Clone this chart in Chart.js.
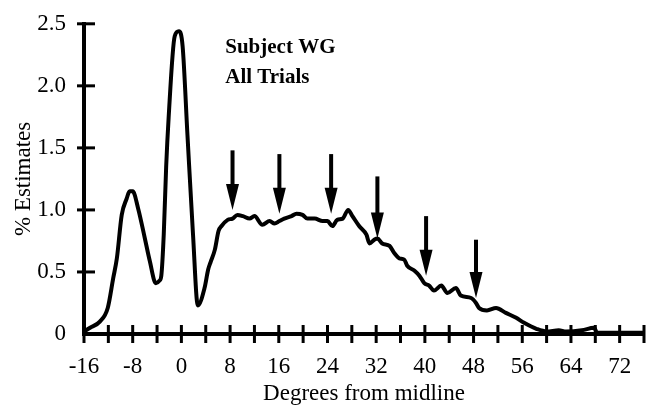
<!DOCTYPE html>
<html>
<head>
<meta charset="utf-8">
<script src="https://cdn.jsdelivr.net/npm/chart.js@4"></script>
<style>
  html, body { margin: 0; padding: 0; background: #fff; }
  #wrap { width: 655px; height: 410px; }
</style>
</head>
<body>
<div id="wrap"><canvas id="wgChart"></canvas></div>
<script>
// degrees from midline and % of estimates
const degrees = [-16, -15, -13.4, -12.1, -11.2, -10.6, -9.8, -9, -8.5, -8, -7.1, -6, -5.2, -4.2, -3.6,
  -3.3, -2.9, -2.5, -2.1, -1.1, -0.4, 0.2, 1.0, 1.9, 2.7, 3.8, 4.4, 4.8, 5.5, 6.1, 6.6, 7.6, 8.4, 9.2,
  10.1, 11.2, 12, 13.3, 14.5, 15.3, 16.1, 16.9, 18.1, 18.9, 19.9, 20.7, 21.9, 23.2, 24, 24.8, 25.6, 26.5,
  27.4, 28.1, 29.2, 30.4, 30.9, 31.7, 32.2, 33, 34.2, 35, 35.8, 36.6, 37.1, 38.3, 39.1, 39.9, 40.7, 41.5,
  42.7, 43.7, 45.1, 45.9, 47.6, 48.4, 48.9, 50.2, 51.7, 53.3, 55, 56.3, 58.4, 60, 62, 63.2, 65.8, 67.8,
  68.3, 72, 76];
const estimates = [0.02, 0.05, 0.1, 0.21, 0.45, 0.61, 0.96, 1.09, 1.15, 1.15, 1.01, 0.77, 0.59, 0.41, 0.43,
  0.47, 0.8, 1.35, 1.74, 2.4, 2.44, 2.32, 1.6, 0.81, 0.23, 0.37, 0.52, 0.58, 0.68, 0.83, 0.87, 0.92, 0.93, 0.96,
  0.95, 0.93, 0.95, 0.88, 0.91, 0.89, 0.91, 0.93, 0.95, 0.97, 0.96, 0.93, 0.93, 0.91, 0.91, 0.87, 0.92, 0.93,
  1.0, 0.95, 0.87, 0.8, 0.73, 0.76, 0.77, 0.73, 0.71, 0.65, 0.61, 0.6, 0.55, 0.51, 0.47, 0.41, 0.39, 0.35,
  0.39, 0.33, 0.37, 0.31, 0.29, 0.25, 0.21, 0.19, 0.21, 0.17, 0.13, 0.09, 0.04, 0.02, 0.03, 0.02, 0.03, 0.05,
  0.01, 0.01, 0.01];

// arrows: x position, top of shaft, tip (data units)
const arrowX = [8.4, 16.1, 24.6, 32.2, 40.2, 48.4];
const arrowTop = [1.48, 1.45, 1.45, 1.27, 0.95, 0.76];
const arrowTip = [1.0, 0.97, 0.97, 0.77, 0.47, 0.29];

const xTicks = [-16, -8, 0, 8, 16, 24, 32, 40, 48, 56, 64, 72];
const yTickLabels = ["0", "0.5", "1.0", "1.5", "2.0", "2.5"];
const noteLines = ["Subject WG", "All Trials"];

const SERIF = "'Liberation Serif', 'Times New Roman', serif";

const crossTicks = {
  id: "crossTicks",
  afterDraw(chart) {
    const { ctx, scales: { x, y }, chartArea } = chart;
    ctx.save();
    ctx.strokeStyle = "#000";
    ctx.lineWidth = 3;
    x.ticks.forEach(t => {
      const px = x.getPixelForValue(t.value);
      ctx.beginPath();
      ctx.moveTo(px, chartArea.bottom - 9);
      ctx.lineTo(px, chartArea.bottom + 9);
      ctx.stroke();
    });
    y.ticks.forEach(t => {
      if (t.value === 0) return;
      const py = y.getPixelForValue(t.value);
      ctx.beginPath();
      ctx.moveTo(chartArea.left - 7, py);
      ctx.lineTo(chartArea.left + 11, py);
      ctx.stroke();
    });
    // arrows
    ctx.fillStyle = "#000";
    arrowX.forEach((ax, i) => {
      const px = x.getPixelForValue(ax);
      const top = y.getPixelForValue(arrowTop[i]);
      const tip = y.getPixelForValue(arrowTip[i]);
      const headLen = 26, headW = 6.5;
      ctx.lineWidth = 4;
      ctx.beginPath();
      ctx.moveTo(px, top);
      ctx.lineTo(px, tip - headLen + 2);
      ctx.stroke();
      ctx.beginPath();
      ctx.moveTo(px - headW, tip - headLen);
      ctx.lineTo(px + headW, tip - headLen);
      ctx.lineTo(px, tip);
      ctx.closePath();
      ctx.fill();
    });
    // note text
    ctx.font = "bold 21px " + SERIF;
    ctx.textBaseline = "middle";
    ctx.textAlign = "left";
    const nx = x.getPixelForValue(7.2);
    ctx.fillText(noteLines[0], nx, y.getPixelForValue(2.31));
    ctx.fillText(noteLines[1], nx, y.getPixelForValue(2.07));
    ctx.restore();
  }
};

new Chart(document.getElementById("wgChart"), {
  type: "line",
  data: {
    datasets: [{
      data: degrees.map((d, i) => ({ x: d, y: estimates[i] })),
      borderColor: "#000",
      borderWidth: 4,
      pointRadius: 0,
      cubicInterpolationMode: "monotone",
      fill: false
    }]
  },
  options: {
    responsive: true,
    maintainAspectRatio: false,
    animation: false,
    layout: { padding: { top: 20, right: 10, bottom: 2, left: 0 } },
    plugins: { legend: { display: false }, tooltip: { enabled: false } },
    scales: {
      x: {
        type: "linear",
        min: -16,
        max: 76,
        grid: { display: false },
        border: { display: true, color: "#000", width: 4 },
        ticks: {
          stepSize: 4,
          autoSkip: false,
          maxRotation: 0,
          padding: 11,
          color: "#000",
          font: { family: SERIF, size: 23 },
          callback: v => (xTicks.includes(v) ? String(v) : "")
        },
        title: {
          display: true,
          text: "Degrees from midline",
          color: "#000",
          font: { family: SERIF, size: 23 },
          padding: { top: 0, bottom: 0 }
        },
        afterFit: s => { s.height = 74; }
      },
      y: {
        min: 0,
        max: 2.5,
        grid: { display: false },
        border: { display: true, color: "#000", width: 4 },
        ticks: {
          stepSize: 0.5,
          padding: 10,
          color: "#000",
          font: { family: SERIF, size: 23 },
          callback: v => yTickLabels[Math.round(v * 2)]
        },
        title: {
          display: true,
          text: "% Estimates",
          color: "#000",
          font: { family: SERIF, size: 23 },
          padding: { top: 10, bottom: 0 }
        },
        afterFit: s => { s.width = 84; }
      }
    }
  },
  plugins: [crossTicks]
});
</script>
</body>
</html>
